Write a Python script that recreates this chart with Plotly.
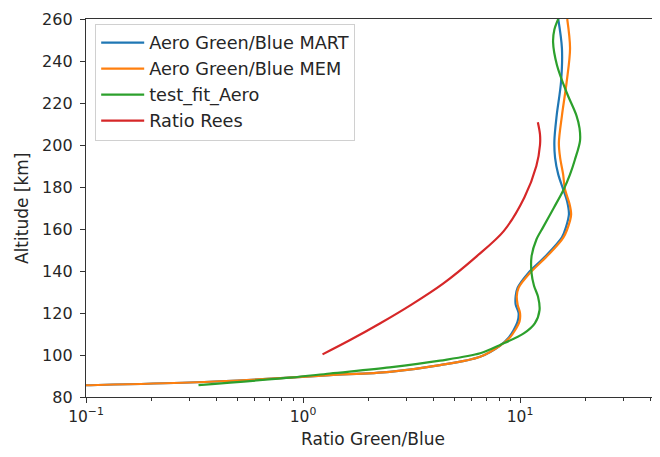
import plotly.graph_objects as go

# ---- data ----
alt_mart = [85.0, 85.6, 86.9, 89.2, 90.4, 92.0, 95.2, 99.2, 104.5, 108.5, 111.9, 116, 120, 124, 128,
            132, 139, 147, 156, 161, 167, 173, 179, 186, 194, 202, 214, 230, 246, 260]
ratio_mart = [0.05, 0.1, 0.30, 0.87, 1.33, 2.51, 4.28, 6.55, 8.1, 8.9, 9.35, 9.75, 9.85, 9.55, 9.55,
              9.75, 10.9, 13.1, 15.6, 16.3, 16.8, 16.5, 15.8, 15.0, 14.5, 14.4, 14.75, 15.45, 15.6, 15.0]

alt_mem = [85.0, 85.6, 86.9, 89.2, 90.4, 92.0, 95.2, 99.2, 104.5, 108.5, 111.9, 116, 120, 124, 128,
           132, 139, 147, 156, 164, 167, 172, 179, 186, 194, 201, 214, 230, 246, 260]
ratio_mem = [0.05, 0.1, 0.30, 0.87, 1.33, 2.51, 4.28, 6.55, 8.1, 9.0, 9.5, 9.95, 10.0, 9.75, 9.66,
             9.85, 11.1, 13.3, 15.85, 17.0, 17.2, 16.9, 16.1, 15.8, 15.3, 15.1, 15.6, 16.4, 17.0, 16.5]

alt_fit = [85.7, 89.2, 91.2, 94.1, 97.3, 100.8, 104.8, 110.3, 115.1, 121.4, 127.8, 133, 139,
           147, 155, 161, 170, 178.6, 186, 193, 202, 208, 214, 225, 238, 249, 255, 260]
ratio_fit = [0.33, 0.87, 1.33, 2.51, 4.28, 6.55, 8.1, 10.4, 11.7, 12.3, 12.1, 11.6, 11.3,
             11.3, 11.9, 12.8, 14.3, 15.85, 17.0, 17.9, 18.9, 18.8, 18.2, 16.4, 14.8, 14.2, 14.4, 15.0]

alt_rees = [100.3, 107, 115, 124, 134, 147, 159, 175, 190, 200, 205, 210.8]
ratio_rees = [1.23, 1.64, 2.26, 3.16, 4.42, 6.31, 8.41, 10.47, 11.89, 12.36, 12.36, 12.08]

x_tickvals = [0.1, 1, 10]
x_ticktext = ["10<sup>\u22121</sup>", "10<sup>0</sup>", "10<sup>1</sup>"]
x_minor = [0.2, 0.3, 0.4, 0.5, 0.6, 0.7, 0.8, 0.9, 2, 3, 4, 5, 6, 7, 8, 9, 20, 30, 40]
y_tickvals = [80, 100, 120, 140, 160, 180, 200, 220, 240, 260]

series = [
    ("Aero Green/Blue MART", ratio_mart, alt_mart, "#1f77b4"),
    ("Aero Green/Blue MEM", ratio_mem, alt_mem, "#ff7f0e"),
    ("test_fit_Aero", ratio_fit, alt_fit, "#2ca02c"),
    ("Ratio Rees", ratio_rees, alt_rees, "#d62728"),
]

fig = go.Figure()
for i, (name, xs, ys, col) in enumerate(series):
    fig.add_trace(go.Scatter(x=xs, y=ys, mode="lines", name=name,
                             line=dict(color=col, width=2.2, shape="spline", smoothing=0.9)))

font_family = "DejaVu Sans, sans-serif"
axis_col = "#333333"
# page body has an 8px default margin: figure is sized/offset to compensate
fig.update_layout(
    width=652, height=449,
    margin=dict(l=78, r=0, t=11, b=60),
    paper_bgcolor="white", plot_bgcolor="white",
    font=dict(family=font_family, size=15.5, color="#262626"),
    showlegend=True,
    legend=dict(x=0.016, y=0.988, xanchor="left", yanchor="top",
                bgcolor="rgba(255,255,255,0.8)", bordercolor="#d0d0d0", borderwidth=1,
                font=dict(size=17.7), itemwidth=43),
    xaxis=dict(type="log", range=[-1, 1.645], showgrid=False, zeroline=False,
               showline=True, linecolor=axis_col, linewidth=1.3, mirror=True,
               ticks="outside", ticklen=5, tickwidth=1.2, tickcolor=axis_col,
               tickmode="array", tickvals=x_tickvals, ticktext=x_ticktext,
               tickfont=dict(size=15.5),
               minor=dict(tickmode="array", tickvals=x_minor, ticks="outside",
                          ticklen=3, tickwidth=1, tickcolor=axis_col, showgrid=False),
               title=dict(text="Ratio Green/Blue", standoff=8, font=dict(size=17))),
    yaxis=dict(range=[80, 260], showgrid=False, zeroline=False,
               showline=True, linecolor=axis_col, linewidth=1.3,
               ticks="outside", ticklen=5, tickwidth=1.2, tickcolor=axis_col,
               tickmode="array", tickvals=y_tickvals, tickfont=dict(size=16),
               ticklabelstandoff=4),
    annotations=[dict(text="Altitude [km]", textangle=-90, xref="paper", yref="paper",
                      x=-0.1115, y=0.5, xanchor="center", yanchor="middle",
                      showarrow=False, font=dict(size=17))],
)

fig.write_html("out.html")
